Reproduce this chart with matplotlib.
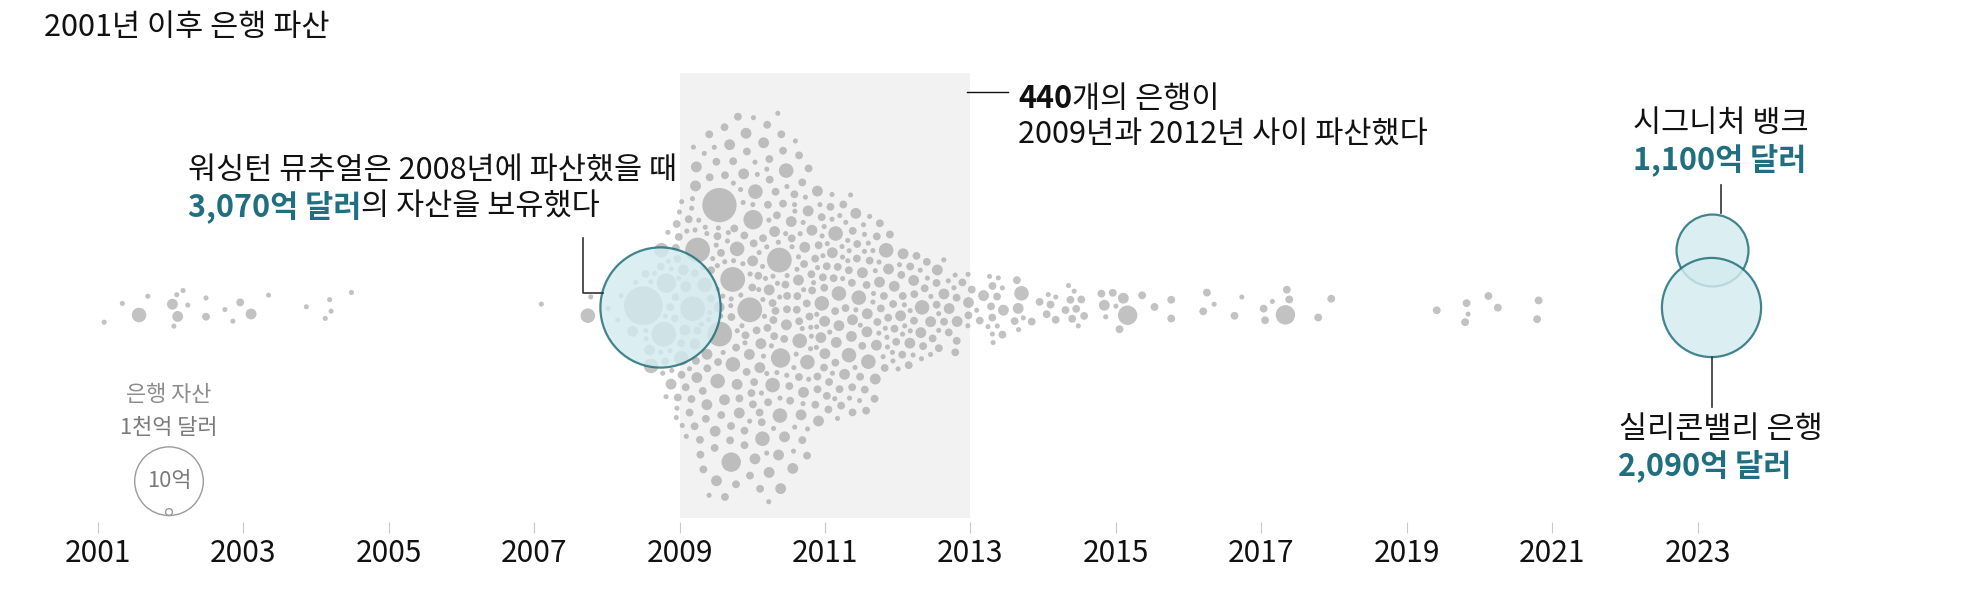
import numpy as np
import matplotlib
matplotlib.use("Agg")
import matplotlib.pyplot as plt
from matplotlib.patches import Circle

plt.rcParams['font.family'] = ['Noto Sans CJK KR', 'DejaVu Sans']

# ------------------------------------------------------------------ data
# asset size classes (billions of dollars) used by the code strings below
ASSET_CLASS_B = {1: 0.55, 2: 1.3, 3: 2.5, 4: 4.5, 5: 8.0, 6: 13.0, 7: 25.0, 8: 32.0}

early_dates = [2001.09, 2001.34, 2001.57, 2001.69, 2002.03, 2002.05, 2002.09, 2002.10,
               2002.17, 2002.24, 2002.49, 2002.49, 2002.75, 2002.86, 2002.96, 2003.11,
               2003.35, 2003.87, 2004.13, 2004.19, 2004.21, 2004.49, 2007.10, 2007.74, 2007.78]
early_class = [1, 1, 4, 1, 3, 1, 1, 3, 1, 1, 2, 1, 1, 1, 2, 3, 1, 1, 1, 1, 1, 1, 1, 4, 1]

y2008_dates = [2008.02, 2008.15, 2008.22, 2008.36, 2008.40, 2008.53, 2008.55, 2008.58,
               2008.60, 2008.62, 2008.64, 2008.68, 2008.70, 2008.75, 2008.82, 2008.83,
               2008.86, 2008.86, 2008.87, 2008.88, 2008.91, 2008.95, 2008.96, 2008.97]
y2008_class = [1, 1, 1, 3, 1, 8, 1, 2, 1, 4, 1, 3, 1, 1, 1, 2, 6, 4, 5, 1, 1, 2, 1, 1]

# one string per month, one character (size class) per failed bank
crisis_2009 = ["212312", "121231221312", "2132141", "21362121", "6213212", "2123121312",
               "2131221421321221312123", "762132121421321", "52131221",
               "2131621221312214212", "21312412213", "621321252131212"]
crisis_2010 = ["213124121312212", "421312212131", "213121421312212131",
               "6521321214213122131212", "21312142", "21231212131",
               "2131221421312122131212", "2131224121312", "2131221312", "2131221",
               "21312214", "21312213121"]
crisis_2011 = ["4213122", "21312214213", "21312", "21412213121231", "2131", "21412213",
               "21312412213", "213122131", "21312", "21312214", "213122", "2131"]
crisis_2012 = ["2131221", "2132", "213122", "214123", "21", "2131", "213122", "213",
               "213", "213122", "2", "213"]

tail_dates = [2012.96, 2013.03, 2013.05, 2013.13, 2013.19, 2013.26, 2013.27, 2013.30, 2013.30,
              2013.30, 2013.31, 2013.31, 2013.36, 2013.36, 2013.37, 2013.43, 2013.43, 2013.43,
              2013.62, 2013.64, 2013.66, 2013.66, 2013.70, 2013.71, 2013.83,
              2013.95, 2014.05, 2014.07, 2014.10, 2014.17, 2014.17, 2014.31, 2014.35, 2014.38,
              2014.40, 2014.42, 2014.45, 2014.48, 2014.52, 2014.56, 2014.80, 2014.84, 2014.86,
              2014.96, 2015.00, 2015.05, 2015.10, 2015.16, 2015.36, 2015.53, 2015.76, 2015.76,
              2016.20, 2016.25, 2016.35, 2016.63, 2016.73,
              2017.03, 2017.05, 2017.15, 2017.33, 2017.35, 2017.38, 2017.78, 2017.96,
              2019.41, 2019.80, 2019.82, 2019.84, 2020.12, 2020.25, 2020.79, 2020.81]
tail_class = [1, 2, 1, 2, 3, 1, 1, 2, 1, 2, 2, 1, 2, 1, 1, 3, 2, 1, 2, 2, 3, 1, 4, 1, 2,
              2, 2, 1, 2, 2, 1, 2, 1, 2, 2, 1, 2, 1, 2, 2, 2, 3, 1,
              2, 1, 2, 3, 5, 2, 2, 2, 2,
              2, 2, 1, 2, 1,
              2, 2, 1, 5, 2, 2, 2, 2,
              2, 2, 2, 1, 2, 2, 2, 2]

highlight_dates = [2008.73, 2023.186, 2023.192]     # WaMu, SVB, Signature
highlight_assets_b = [307.0, 209.0, 110.0]

year_ticks = list(range(2001, 2024, 2))
crisis_span = (2009, 2013)
legend_assets_b = [100.0, 1.0]

# ------------------------------------------------------------------ assemble
def months_to_banks(year, month_codes):
    d, c = [], []
    for m, codes in enumerate(month_codes):
        for ch in codes:
            d.append(year + (m + 0.5) / 12.0)
            c.append(int(ch))
    return d, c

dates = list(early_dates) + list(y2008_dates)
classes = list(early_class) + list(y2008_class)
for yr, codes in [(2009, crisis_2009), (2010, crisis_2010), (2011, crisis_2011), (2012, crisis_2012)]:
    d, c = months_to_banks(yr, codes)
    dates += d
    classes += c
dates += tail_dates
classes += tail_class
dates = np.array(dates, float)
assets = np.array([ASSET_CLASS_B[c] for c in classes], float)

K = 3.43          # px radius per sqrt(billion)
R_MIN = 2.4
radii = np.maximum(R_MIN, K * np.sqrt(assets))

# ------------------------------------------------------------------ figure
W, H, DPI = 1962, 604, 100
fig = plt.figure(figsize=(W / DPI, H / DPI), dpi=DPI, facecolor='white')

AX_BOTTOM_PX = 533
ax = fig.add_axes([0, (H - AX_BOTTOM_PX) / H, 1, AX_BOTTOM_PX / H])
PX_PER_YEAR = 72.74
X0_PX = 97.6
ax.set_xlim(2001 - X0_PX / PX_PER_YEAR, 2001 + (W - X0_PX) / PX_PER_YEAR)
ax.set_ylim(AX_BOTTOM_PX, 0)
for s in ax.spines.values():
    s.set_visible(False)
ax.set_yticks([])
ax.set_xticks(year_ticks)
ax.set_xticklabels([str(y) for y in year_ticks])
ax.tick_params(axis='x', direction='in', length=11 * 0.72, width=0.8, color='#c8c8c8',
               labelsize=21.5, pad=3.5, labelcolor='#111111')
ax.patch.set_alpha(0)

# crisis band
top_px, bot_px = 73, 518
ax.axvspan(crisis_span[0], crisis_span[1],
           ymin=(AX_BOTTOM_PX - bot_px) / AX_BOTTOM_PX,
           ymax=(AX_BOTTOM_PX - top_px) / AX_BOTTOM_PX,
           color='#f2f2f3', lw=0, zorder=0)

CY = 307.0  # centre line (data y units = pixels from top)

# ------------------------------------------------------------------ force layout (display px)
pts = ax.transData.transform(np.column_stack([dates, np.full(len(dates), CY)]))
x0 = pts[:, 0]
y0 = pts[0, 1]

def swarm(x0, r, yc, dates, iters=340):
    n = len(x0)
    x = x0.copy()
    g = (np.arange(n) * 0.6180339887498949) % 1.0
    y = yc + (g - 0.5) * 60.0
    m = r ** 2
    Wt = m[None, :] / (m[:, None] + m[None, :])
    # looser spacing where failures are crowded, tight spacing where they are sparse
    local = (np.abs(dates[:, None] - dates[None, :]) < 0.25).sum(axis=1)
    pad = 1.8 + 7.8 * np.clip(local / 70.0, 0, 1)
    Rs = r[:, None] + r[None, :] + 0.5 * (pad[:, None] + pad[None, :])
    eye = np.eye(n, dtype=bool)
    for it in range(iters + 30):
        if it < iters:
            x += (x0 - x) * 0.35
            y += (yc - y) * 0.002
        dx = x[None, :] - x[:, None]
        dy = y[None, :] - y[:, None]
        d = np.sqrt(dx * dx + dy * dy)
        d[eye] = np.inf
        ov = Rs - d
        f = np.where(ov > 0, ov / np.maximum(d, 1e-3) * Wt * 0.5, 0.0)
        x -= (f * dx).sum(axis=1)
        y -= (f * dy).sum(axis=1)
    return x, y

sx, sy = swarm(x0, radii, y0, dates)
data_xy = ax.transData.inverted().transform(np.column_stack([sx, sy]))

def size_pts2(r_px):
    return (2 * np.asarray(r_px) * 72.0 / DPI) ** 2

ax.scatter(data_xy[:, 0], data_xy[:, 1], s=size_pts2(radii), color='#9a9a9a',
           alpha=0.6, lw=0, zorder=2)

# ------------------------------------------------------------------ highlighted banks
h_r = K * np.sqrt(np.array(highlight_assets_b))
h_pts = ax.transData.transform(np.column_stack([highlight_dates, np.full(3, CY)]))
placed = []
order = np.argsort(-h_r)
h_y = np.zeros(3)
for i in order:
    xi = h_pts[i, 0]
    cand = [y0]
    for j in placed:
        sep = 0.67 * (h_r[i] + h_r[j])
        ddx = xi - h_pts[j, 0]
        if abs(ddx) < sep:
            off = np.sqrt(sep ** 2 - ddx ** 2)
            cand += [h_y[j] + off, h_y[j] - off]
    best = None
    # prefer the position closest to the centre line; on ties prefer above
    for c in sorted(cand, key=lambda v: (round(abs(v - y0), 3), -v)):
        ok = all(np.hypot(xi - h_pts[j, 0], c - h_y[j]) >= 0.67 * (h_r[i] + h_r[j]) - 1e-3
                 for j in placed)
        if ok:
            best = c
            break
    h_y[i] = best
    placed.append(i)
h_data = ax.transData.inverted().transform(np.column_stack([h_pts[:, 0], h_y]))
for i in [0, 2, 1]:
    ax.scatter([h_data[i, 0]], [h_data[i, 1]], s=size_pts2(h_r[i]), facecolor='#d3ebf0',
               edgecolor='#1b6b75', lw=1.6, alpha=0.82, zorder=3)

# ------------------------------------------------------------------ overlay for annotations (pixel coords)
ov = fig.add_axes([0, 0, 1, 1])
ov.set_xlim(0, W)
ov.set_ylim(H, 0)
ov.axis('off')
ov.patch.set_alpha(0)

BLACK = '#111111'
TEAL = '#1f6f80'
FS = 22

ov.text(44, 28, '2001년 이후 은행 파산', fontsize=22, color=BLACK, va='center', ha='left')

renderer = fig.canvas.get_renderer()

def mixed(x, y, parts, fs=FS):
    cur = x
    for s, col, wt in parts:
        t = ov.text(cur, y, s, fontsize=fs, color=col, fontweight=wt, va='center', ha='left')
        bb = t.get_window_extent(renderer=renderer)
        cur += bb.width

# 440 annotation
ov.plot([967, 1008], [92, 92], color=BLACK, lw=1.0)
mixed(1018, 99, [('440', BLACK, 900), ('개의 은행이', BLACK, 'normal')])
ov.text(1018, 135, '2009년과 2012년 사이 파산했다', fontsize=FS, color=BLACK, va='center', ha='left')

# WaMu annotation
ov.text(188, 171, '워싱턴 뮤추얼은 2008년에 파산했을 때', fontsize=FS, color=BLACK,
        va='center', ha='left')
mixed(188, 207, [('3,070억 달러', TEAL, 900), ('의 자산을 보유했다', BLACK, 'normal')])
ov.plot([582.7, 582.7, 603], [238, 293, 293], color='#333333', lw=1.2)

# Signature annotation
ov.text(1633, 123, '시그니처 뱅크', fontsize=FS, color=BLACK, va='center', ha='left')
ov.text(1633, 160, '1,100억 달러', fontsize=FS, color=TEAL, fontweight=900, va='center', ha='left')
ov.plot([1721, 1721], [185, 213], color='#333333', lw=1.2)

# SVB annotation
ov.text(1619, 429, '실리콘밸리 은행', fontsize=FS, color=BLACK, va='center', ha='left')
ov.text(1618, 466, '2,090억 달러', fontsize=FS, color=TEAL, fontweight=900, va='center', ha='left')
ov.plot([1711.7, 1711.7], [357, 407], color='#333333', lw=1.2)

# size legend
ov.text(169, 395, '은행 자산', fontsize=15.8, color='#8c8c8c', style='italic', va='center', ha='center')
ov.text(169, 428, '1천억 달러', fontsize=15.8, color='#7a7a7a', va='center', ha='center')
LEG_BOTTOM = 515.5
for a in legend_assets_b:
    r = K * np.sqrt(a)
    ov.add_patch(Circle((169, LEG_BOTTOM - r), r, facecolor='none', edgecolor='#9a9a9a', lw=1.0))
ov.text(169, 481, '10억', fontsize=15.8, color='#7a7a7a', va='center', ha='center')

fig.savefig('out.png', dpi=DPI, facecolor='white')
